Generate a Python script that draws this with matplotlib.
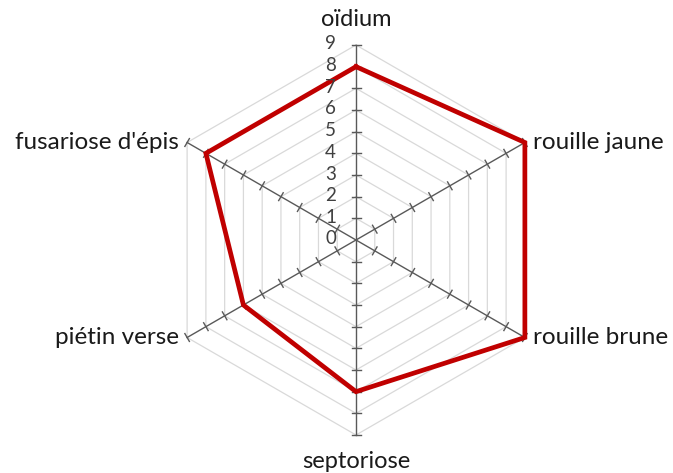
import numpy as np
import matplotlib
matplotlib.use("Agg")
import matplotlib.pyplot as plt

# data
categories = ["oïdium", "rouille jaune", "rouille brune",
              "septoriose", "piétin verse", "fusariose d'épis"]
values = [8, 9, 9, 7, 6, 8]
tick_values = list(range(0, 10))

plt.rcParams['font.family'] = ['Lato', 'DejaVu Sans']

W, H = 673, 473
fig = plt.figure(figsize=(W / 100, H / 100), dpi=100)
ax = fig.add_axes([0, 0, 1, 1])

# pixel geometry -> data units (one unit = one step on the scale)
cx, cy = 356, 240
px = 195 / 9.0
ax.set_xlim(-cx / px, (W - cx) / px)
ax.set_ylim(-(H - cy) / px, cy / px)
ax.set_aspect('equal')
ax.axis('off')

n = len(categories)
angles = np.pi / 2 - np.arange(n) * 2 * np.pi / n
rmax = max(tick_values)

# light grid hexagons
for r in tick_values[1:]:
    xs = r * np.cos(np.append(angles, angles[0]))
    ys = r * np.sin(np.append(angles, angles[0]))
    ax.plot(xs, ys, color='#d9d9d9', lw=0.9, zorder=1)

# spokes with tick marks
tick_half = 4.5 / px
for a in angles:
    ax.plot([0, rmax * np.cos(a)], [0, rmax * np.sin(a)],
            color='#595959', lw=1.0, zorder=2)
    nx, ny = -np.sin(a), np.cos(a)
    for r in tick_values[1:]:
        x0, y0 = r * np.cos(a), r * np.sin(a)
        ax.plot([x0 - nx * tick_half, x0 + nx * tick_half],
                [y0 - ny * tick_half, y0 + ny * tick_half],
                color='#595959', lw=1.0, zorder=2)

# data series
vx = np.array(values) * np.cos(angles)
vy = np.array(values) * np.sin(angles)
ax.plot(np.append(vx, vx[0]), np.append(vy, vy[0]),
        color='#c00000', lw=3.4, zorder=3, solid_joinstyle='miter')

# radial tick labels
for r in tick_values:
    ax.text(-20 / px, r + 1 / px, str(r), ha='right', va='center',
            fontsize=13.5, color='#404040', zorder=4)

# category labels
offset = 8 / px
for name, a in zip(categories, angles):
    x0, y0 = rmax * np.cos(a), rmax * np.sin(a)
    c = np.cos(a)
    if abs(c) < 0.1:
        if np.sin(a) > 0:
            ax.text(x0, y0 + 25 / px, name, ha='center', va='center',
                    fontsize=17, color='#1a1a1a')
        else:
            ax.text(x0, y0 - 27 / px, name, ha='center', va='center',
                    fontsize=17, color='#1a1a1a')
    else:
        ha = 'left' if c > 0 else 'right'
        ax.text(x0 + (offset if c > 0 else -offset), y0, name,
                ha=ha, va='center', fontsize=17.5, color='#1a1a1a')

fig.savefig('out.png', dpi=100)
